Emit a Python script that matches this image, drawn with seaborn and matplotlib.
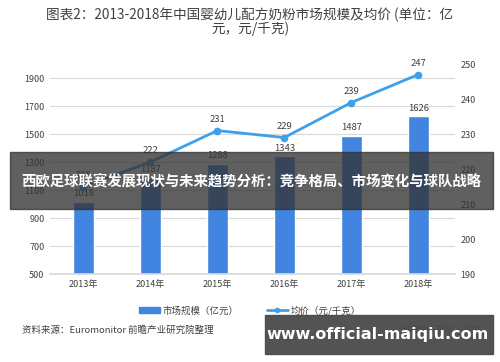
import matplotlib
matplotlib.use("Agg")
import matplotlib.pyplot as plt
import seaborn as sns
import pandas as pd
from matplotlib.patches import Patch
from matplotlib.lines import Line2D

sns.set_theme(style="white")
plt.rcParams['font.family'] = ['Noto Sans CJK SC', 'DejaVu Sans']

years = ["2013年", "2014年", "2015年", "2016年", "2017年", "2018年"]
market_size = [1018, 1187, 1288, 1343, 1487, 1626]
avg_price = [215, 222, 231, 229, 239, 247]

df = pd.DataFrame({"年份": years, "市场规模": market_size, "均价": avg_price})

bar_color = "#4285e0"
line_color = "#3fa0ea"
text_color = "#404040"

fig = plt.figure(figsize=(5, 3.62), dpi=100)
ax = fig.add_axes([0.10, 0.243, 0.81, 0.58])

sns.barplot(data=df, x="年份", y="市场规模", color=bar_color, width=0.31,
            saturation=1, ax=ax, zorder=2)
ax.set_ylim(500, 2000)
ax.set_yticks(range(500, 2000, 200))
ax.set_xlim(-0.5, 5.55)
ax.yaxis.grid(True, color="#d9d9d9", linewidth=0.8, zorder=0)
ax.set_axisbelow(True)
for s in ax.spines.values():
    s.set_visible(False)
ax.spines["bottom"].set_visible(True)
ax.spines["bottom"].set_color("#d9d9d9")
ax.set_xlabel("")
ax.set_ylabel("")
ax.tick_params(axis="both", length=0, labelsize=6.5, colors=text_color, pad=4)

for i, v in enumerate(market_size):
    ax.text(i, v + 25, str(v), ha="center", va="bottom", fontsize=6.8, color=text_color)

ax2 = ax.twinx()
sns.pointplot(data=df, x="年份", y="均价", color=line_color, ax=ax2,
              markers="o", linewidth=2, markersize=4)
ax2.set_ylim(190, 250)
ax2.set_yticks(range(190, 251, 10))
ax2.set_xlim(-0.5, 5.55)
for s in ax2.spines.values():
    s.set_visible(False)
ax2.set_ylabel("")
ax2.set_xlabel("")
ax2.tick_params(axis="y", length=0, labelsize=6.5, colors=text_color, pad=4)

for i, v in enumerate(avg_price):
    ax2.text(i, v + 2, str(v), ha="center", va="bottom", fontsize=6.8, color=text_color)

fig.text(0.5, 0.978, "图表2：2013-2018年中国婴幼儿配方奶粉市场规模及均价 (单位：亿\n元，元/千克)",
         ha="center", va="top", fontsize=9.8, color=text_color, linespacing=0.85)

# legend
handles = [Patch(color=bar_color, label="市场规模（亿元）"),
           Line2D([0], [0], color=line_color, marker="o", markersize=3, linewidth=2,
                  label="均价（元/千克）")]
fig.legend(handles=handles, loc="center", bbox_to_anchor=(0.5, 0.142), ncol=2,
           frameon=False, fontsize=6.8, handlelength=2.2, handleheight=0.5,
           columnspacing=3, handletextpad=0.3, labelcolor=text_color)

fig.text(0.044, 0.088, "资料来源：Euromonitor 前瞻产业研究院整理", ha="left", va="center",
         fontsize=6.8, color=text_color)
fig.text(0.96, 0.088, "@前瞻经济学人APP", ha="right", va="center",
         fontsize=6.5, color=text_color)

# overlay banners
fig.patches.append(plt.Rectangle((0.02, 0.422), 0.965, 0.158, transform=fig.transFigure,
                                 color="#333333", alpha=0.78, zorder=10))
fig.text(0.502, 0.5, "西欧足球联赛发展现状与未来趋势分析：竞争格局、市场变化与球队战略",
         ha="center", va="center", fontsize=10.4, color="white", fontweight="bold", zorder=11)
fig.patches.append(plt.Rectangle((0.53, 0.022), 0.455, 0.108, transform=fig.transFigure,
                                 color="#4a4a4a", alpha=0.95, zorder=10))
fig.text(0.755, 0.075, "www.official-maiqiu.com", ha="center", va="center",
         fontsize=11.5, color="white", fontweight="bold", zorder=11,
         family=["DejaVu Sans"])

fig.savefig("out.png", dpi=100)
